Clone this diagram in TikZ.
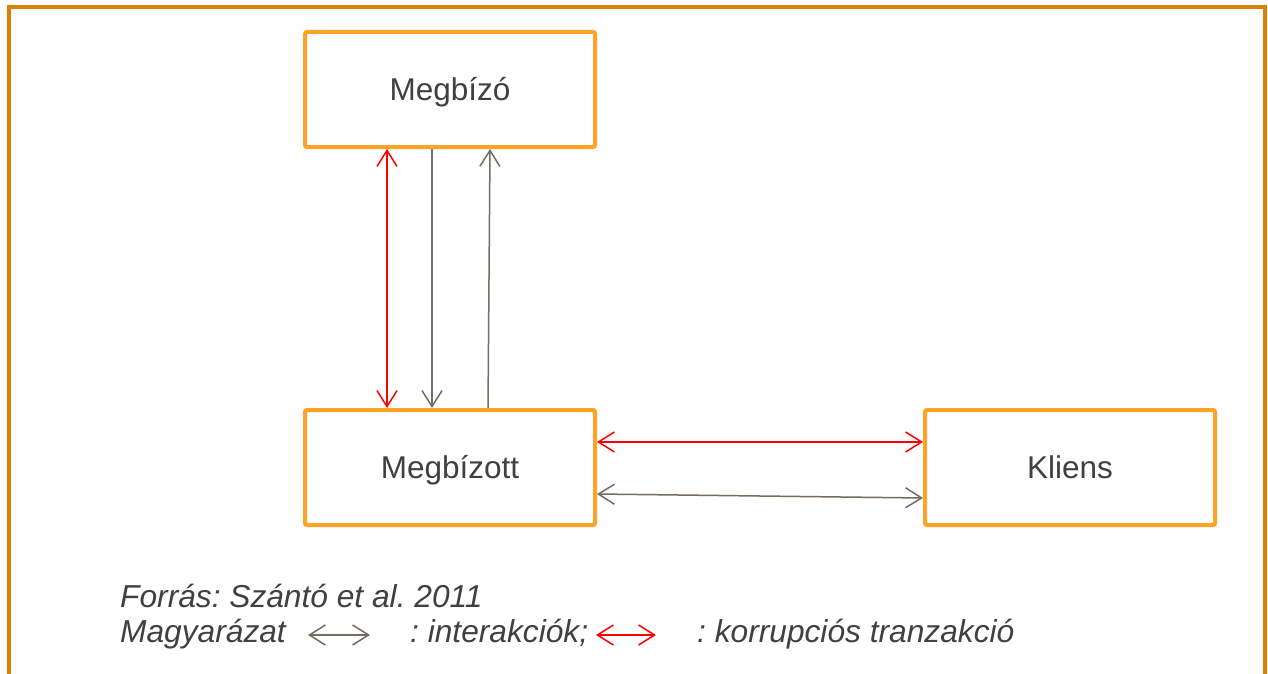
\documentclass[tikz,border=0pt]{standalone}
\usepackage{fontspec}
\setmainfont{Liberation Sans}
\usetikzlibrary{arrows.meta}
\definecolor{frameor}{HTML}{DC8100}
\definecolor{boxor}{HTML}{FFA326}
\definecolor{txt}{HTML}{404040}
\definecolor{greyarr}{HTML}{766C62}
\definecolor{redarr}{HTML}{FF0000}
\frenchspacing
\begin{document}
\begin{tikzpicture}[x=1pt,y=-1pt,
  box/.style={draw=boxor,line width=4pt,rounded corners=2pt,minimum width=290pt,minimum height=115pt,
    inner sep=0pt,text=txt,font=\fontsize{31.5}{37}\selectfont,text height=22.7pt,text depth=-2pt},
  legtext/.style={inner sep=0pt,anchor=base west,text=txt,font=\fontsize{31.7}{37}\selectfont\itshape},
  tipx/.tip={Straight Barb[length=16pt,width=20pt,line width=1.5pt]},
  redline/.style={draw=redarr,line width=1.5pt},
  greyline/.style={draw=greyarr,line width=1.5pt}]
\clip (0,0) rectangle (1268,674);
\fill[white] (0,0) rectangle (1268,674);
\draw[frameor,line width=4pt] (9,700) -- (9,7) -- (1265,7) -- (1265,700);

\node[box] (megbizo) at (450,89.5) {Megbízó};
\node[box] (megbizott) at (450,467.5) {Megbízott};
\node[box] (kliens) at (1070,467.5) {Kliens};

% vertical arrows
\draw[redline,tipx-tipx] ([xshift=-63pt]megbizo.south) -- ([xshift=-63pt]megbizott.north);
\draw[greyline,-tipx] ([xshift=-18pt]megbizo.south) -- ([xshift=-18pt]megbizott.north);
\draw[greyline,-tipx] ([xshift=38pt]megbizott.north) -- ([xshift=40pt]megbizo.south);

% horizontal arrows
\draw[redline,tipx-tipx] ([yshift=25.5pt]megbizott.east) -- ([yshift=25.5pt]kliens.west);
\draw[greyline,tipx-tipx] ([yshift=-26.5pt]megbizott.east) -- ([yshift=-30.5pt]kliens.west);

% legend
\node[legtext] (forras) at (120,607) {Forrás: Szántó et al. 2011};
\node[legtext] (magy) at (120,642) {Magyarázat};
\node[legtext] (inter) at (410,642) {: interakciók;};
\node[legtext] (korr) at (697,642) {: korrupciós tranzakció};
\coordinate (ga) at (308,635);
\coordinate (gb) at (370,635);
\coordinate (ra) at (596,635);
\coordinate (rb) at (656,635);
\draw[greyline,tipx-tipx] (ga) -- (gb);
\draw[redline,tipx-tipx] (ra) -- (rb);
\end{tikzpicture}
\end{document}
